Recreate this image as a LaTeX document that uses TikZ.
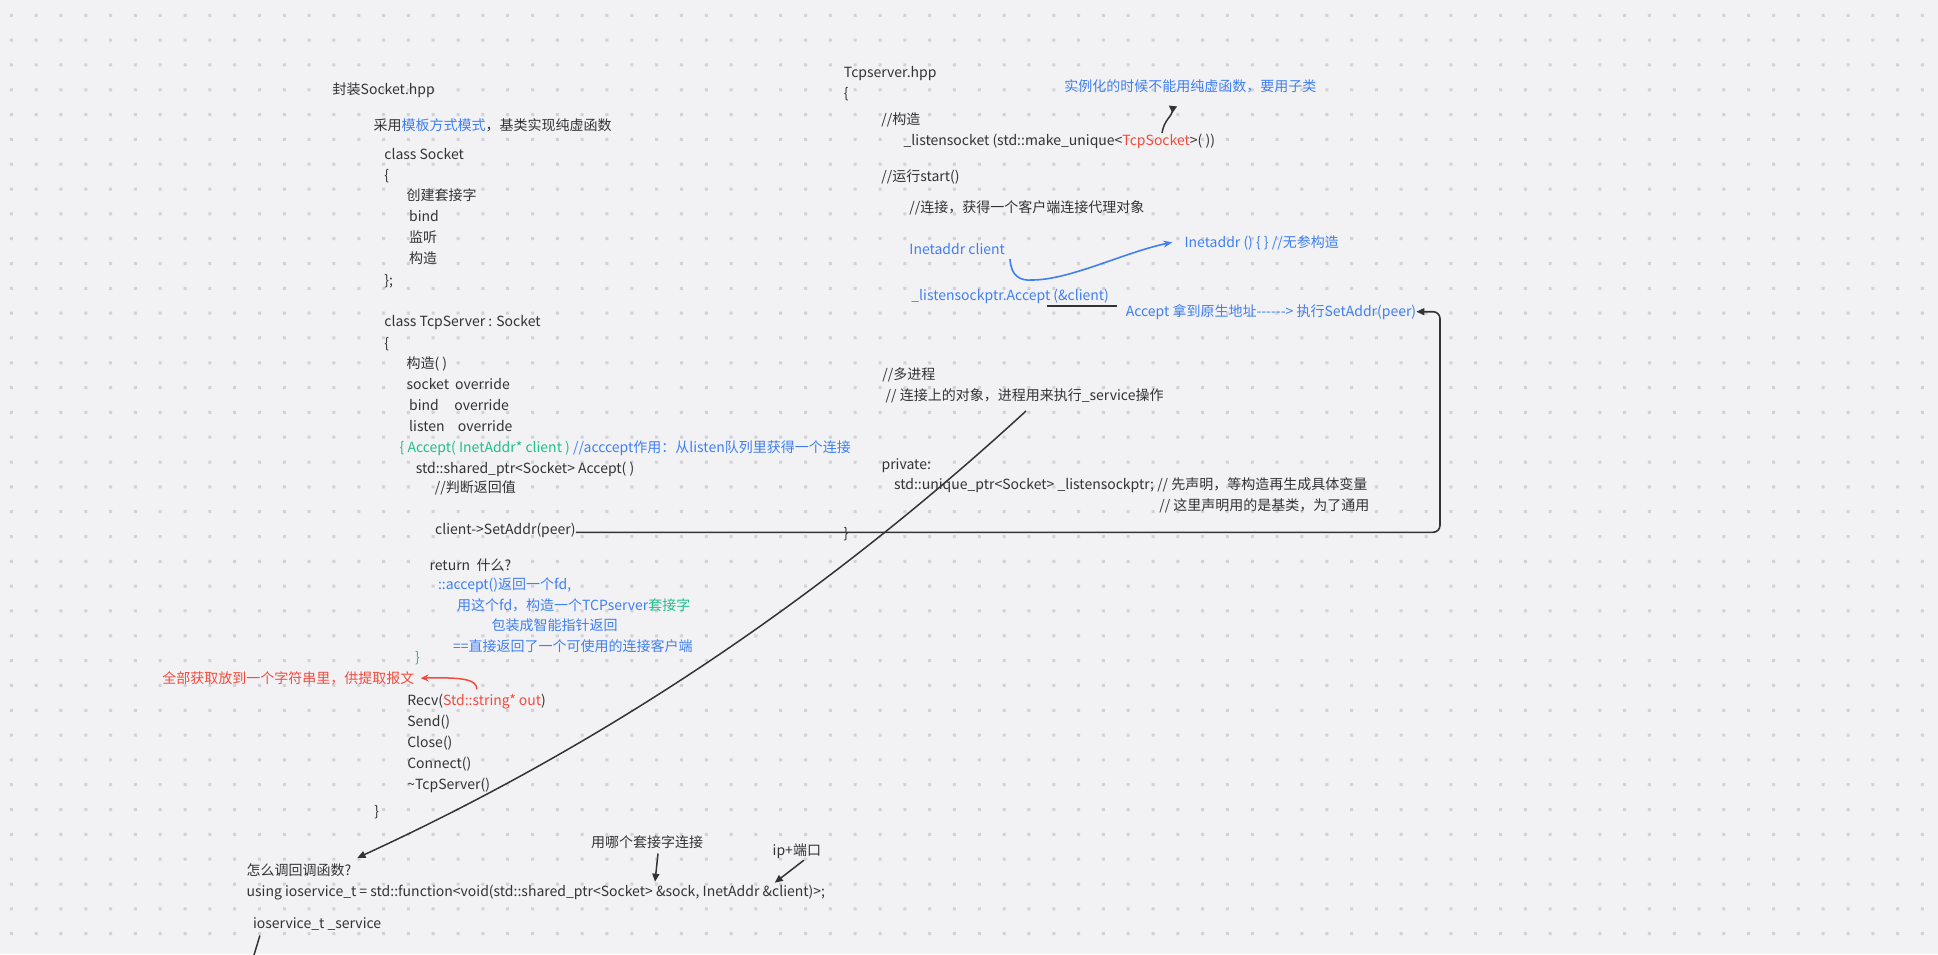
\documentclass[tikz,border=0pt]{standalone}
\usepackage{fontspec}
\setmainfont{Noto Sans CJK SC}[Ligatures=TeXOff]
\usetikzlibrary{arrows.meta}
\definecolor{ink}{HTML}{333333}
\definecolor{noteblue}{HTML}{3F7FF2}
\definecolor{notegreen}{HTML}{20BF8A}
\definecolor{notered}{HTML}{F24B3D}
\definecolor{paper}{HTML}{F2F2F5}
\definecolor{dotc}{HTML}{D2D2D6}

\begin{document}
\begin{tikzpicture}[x=1pt, y=-1pt, font=\fontsize{14}{17}\selectfont,
  txt/.style={anchor=west, inner sep=0pt, text height=10pt, text depth=0pt, text=ink},
  bnote/.style={txt, text=noteblue},
  gnote/.style={txt, text=notegreen},
  rnote/.style={txt, text=notered},
  link/.style={draw=ink, line width=1.6pt, -{Triangle[length=8pt,width=7pt]}}]
  \fill[paper] (0,0) rectangle (1938,954);
  \useasboundingbox (0,0) rectangle (1938,954);
  \fill[dotc] \foreach \i in {0,...,77}{\foreach \j in {0,...,37}{
    (11.3+24.82*\i-1.5, 15.3+24.82*\j-1.5) rectangle ++(3,3)}};

  \node[txt] (hdrL) at (332.5,89.3) {封装Socket.hpp};
  \node[txt] (tpl) at (373.5,125) {采用\textcolor{noteblue}{模板方式模式}，基类实现纯虚函数};
  \node[txt] (clsS) at (384.2,154) {class Socket};
  \node[txt] (brS1) at (384.2,175.7) {\{};
  \node[txt] (mkS) at (406.4,195.7) {创建套接字};
  \node[txt] (bindS) at (409,216.7) {bind};
  \node[txt] (lstS) at (409,237.7) {监听};
  \node[txt] (ctorS) at (409,258.7) {构造};
  \node[txt] (brS2) at (384.2,280) {\};};
  \node[txt] (clsT) at (384.2,321.7) {class TcpServer : Socket};
  \node[txt] (brT1) at (384.2,343.3) {\{};
  \node[txt] (ctorT) at (406.4,363.3) {构造( )};
  \node[txt] (sockT) at (406.4,384.3) {\makebox[48.6pt][l]{socket}override};
  \node[txt] (bindT) at (409,405) {\makebox[45.2pt][l]{bind}override};
  \node[txt] (lstT) at (409,426) {\makebox[48.7pt][l]{listen}override};
  \node[gnote] (accT) at (399.5,447.3) {\{ Accept( InetAddr* client ) \textcolor{noteblue}{//acccept作用：从listen队列里获得一个连接}};
  \node[txt] (accS) at (415.6,468.3) {std::shared\_ptr<Socket> Accept( )};
  \node[txt] (judge) at (434.7,487.3) {//判断返回值};
  \node[txt] (setaddr) at (435,529.3) {client->SetAddr(peer)};
  \node[txt] (ret) at (429.4,565.7) {return\ \ 什么?};
  \node[bnote] (ret1) at (437.8,584.3) {::accept()返回一个fd,};
  \node[bnote] (ret2) at (456.9,605) {用这个fd，构造一个TCPserver\textcolor{notegreen}{套接字}};
  \node[bnote] (ret3) at (491.4,625.7) {包装成智能指针返回};
  \node[bnote] (ret4) at (453,646.7) {==直接返回了一个可使用的连接客户端};
  \node[gnote] (brG) at (414.8,657.3) {\}};
  \node[rnote] (recvNote) at (162.2,678.3) {全部获取放到一个字符串里，供提取报文};
  \node[txt] (recv) at (407.1,700.7) {Recv(\textcolor{notered}{Std::string* out})};
  \node[txt] (send) at (407.1,721.7) {Send()};
  \node[txt] (close) at (407.1,742.7) {Close()};
  \node[txt] (conn) at (407.1,763.3) {Connect()};
  \node[txt] (dtor) at (407.1,784.3) {\textasciitilde TcpServer()};
  \node[txt] (brT2) at (374.2,811.7) {\}};
  \node[txt] (how) at (246.4,870) {怎么调回调函数?};
  \node[txt] (usingT) at (246.4,891.7) {using ioservice\_t = std::function<void(std::shared\_ptr<Socket> \&sock, InetAddr \&client)>;};
  \node[txt] (svc) at (252.9,923.3) {ioservice\_t \_service};
  \node[txt] (whichSock) at (590.8,842.3) {用哪个套接字连接};
  \node[txt] (ipPort) at (772.5,850) {ip+端口};

  \node[txt] (hdrR) at (843.7,72.3) {Tcpserver.hpp};
  \node[txt] (brR1) at (843.7,93.3) {\{};
  \node[bnote] (instNote) at (1064.2,86.7) {实例化的时候不能用纯虚函数，要用子类};
  \node[txt] (cmtCtor) at (881.2,119) {//构造};
  \node[txt] (lsock) at (903.4,140) {\_listensocket (std::make\_unique<\textcolor{notered}{TcpSocket}>( ))};
  \node[txt] (cmtRun) at (881.2,176.7) {//运行start()};
  \node[txt] (cmtConn) at (909.2,207.7) {//连接，获得一个客户端连接代理对象};
  \node[bnote] (cli) at (909.2,249.3) {Inetaddr client};
  \node[bnote] (cliCtor) at (1184.3,242.3) {Inetaddr () \{ \} //无参构造};
  \node[bnote] (accCall) at (911.2,295.7) {\_listensockptr.Accept (\&client)};
  \node[bnote] (accNote) at (1125.6,311.7) {Accept 拿到原生地址------> 执行SetAddr(peer)};
  \node[txt] (cmtProc) at (882.2,374.3) {//多进程};
  \node[txt] (cmtObj) at (885.5,395) {// 连接上的对象，进程用来执行\_service操作};
  \node[txt] (priv) at (881.4,464) {private:};
  \node[txt] (uptr) at (893.8,484.3) {std::unique\_ptr<Socket> \_listensockptr; // 先声明，等构造再生成具体变量};
  \node[txt] (cmtBase) at (1159.1,505.7) {// 这里声明用的是基类，为了通用};
  \node[txt] (brR2) at (843.4,533.3) {\}};

  \coordinate (sa) at ([yshift=-3pt]setaddr.east);
  \coordinate (turn) at (1440,533);
  \draw[link, rounded corners=7pt] (sa) -- (sa -| turn) |- (accNote.east);

  \coordinate (cliTail) at (1010,259);
  \draw[noteblue, line width=1.6pt, -{Stealth[length=9pt,width=7pt]}] (cliTail)
    .. controls (1011,276) and (1020,281) .. (1032,280)
    .. controls (1070,280) and (1125,252) .. ([xshift=-12pt]cliCtor.west);

  \coordinate (recvTail) at (476.8,689.3);
  \draw[notered, line width=1.5pt, -{Stealth[length=8pt,width=7pt]}, shorten >=6pt] (recvTail)
    .. controls (477,680) and (465,677) .. (recvNote.east);

  \coordinate (objTail) at (1026,411);
  \draw[link, line width=1.5pt] (objTail) .. controls (805,614) and (583,754) .. ([xshift=6pt,yshift=7pt]how.north east);

  \coordinate (tsTail) at (1162,133);
  \draw[ink, line width=1.5pt, -{Triangle[reversed,length=7pt,width=8pt]}] (tsTail)
    .. controls (1164,120) and (1172,116) .. (1173,106);

  \coordinate (ulA) at (1046.7,306);
  \coordinate (ulB) at (1116.7,306);
  \draw[ink, line width=1.3pt] (ulA) -- (ulB);

  \coordinate (sockTip) at (655,881.7);
  \draw[link, line width=1.5pt] ([xshift=11pt,yshift=-6pt]whichSock.south) -- (sockTip);
  \coordinate (ipTip) at (774.8,882.7);
  \draw[link, line width=1.5pt] ([xshift=7pt,yshift=-5pt]ipPort.south) -- (ipTip);

  \coordinate (svcEnd) at (253.7,956);
  \draw[ink, line width=1.5pt] ([xshift=7pt,yshift=-7pt]svc.south west) -- (svcEnd);
\end{tikzpicture}
\end{document}
